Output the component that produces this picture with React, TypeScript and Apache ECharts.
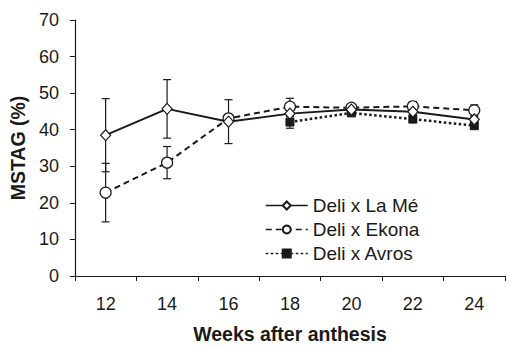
import React, { useEffect, useRef } from "react";
import * as echarts from "echarts";

const weeks = ["12", "14", "16", "18", "20", "22", "24"];
const laMe = [38.5, 45.7, 42.2, 44.4, 45.5, 44.9, 42.8];
const laMeErr = [10, 8, 6, 0.8, 0.5, 0.8, 0.8];
const ekona = [22.8, 31.0, 43.1, 46.3, 46.0, 46.4, 45.3];
const ekonaErr = [8, 4.4, 1, 2.3, 0.7, 1.3, 1.5];
const avros: (number | null)[] = [null, null, null, 42.1, 44.6, 42.9, 41.1];
const avrosErr: (number | null)[] = [null, null, null, 1.7, 0.7, 0.8, 0.8];

const FONT = "'Liberation Sans', Arial, sans-serif";
const INK = "#1a1a1a";

function errData(vals: (number | null)[], errs: (number | null)[]) {
  const out: number[][] = [];
  vals.forEach((v, i) => {
    const e = errs[i];
    if (v != null && e != null) out.push([i, v - e, v + e]);
  });
  return out;
}

function errSeries(name: string, vals: (number | null)[], errs: (number | null)[]) {
  return {
    type: "custom",
    name,
    z: 1,
    silent: true,
    encode: { x: 0, y: [1, 2] },
    data: errData(vals, errs),
    renderItem: (params: any, api: any) => {
      const i = api.value(0);
      const lo = api.coord([i, api.value(1)]);
      const hi = api.coord([i, api.value(2)]);
      const w = 4;
      const style = { stroke: INK, lineWidth: 1.2 };
      return {
        type: "group",
        children: [
          { type: "line", shape: { x1: lo[0], y1: lo[1], x2: hi[0], y2: hi[1] }, style },
          { type: "line", shape: { x1: lo[0] - w, y1: lo[1], x2: lo[0] + w, y2: lo[1] }, style },
          { type: "line", shape: { x1: hi[0] - w, y1: hi[1], x2: hi[0] + w, y2: hi[1] }, style },
        ],
      };
    },
  };
}

export default function App() {
  const ref = useRef<HTMLDivElement>(null);
  useEffect(() => {
    if (!ref.current) return;
    const chart = echarts.init(ref.current, null, { renderer: "svg" });
    chart.setOption({
      animation: false,
      textStyle: { fontFamily: FONT, color: INK },
      grid: { left: 74, right: 1, top: 20, bottom: 64, containLabel: false },
      legend: {
        orient: "vertical",
        left: 260,
        top: 191,
        itemWidth: 42,
        itemHeight: 10,
        itemGap: 5,
        lineStyle: { width: 1.5 },
        textStyle: { fontFamily: FONT, fontSize: 19, color: INK },
        data: ["Deli x La Mé", "Deli x Ekona", "Deli x Avros"],
      },
      xAxis: {
        type: "category",
        data: weeks,
        boundaryGap: true,
        name: "Weeks after anthesis",
        nameLocation: "middle",
        nameGap: 48,
        nameTextStyle: { fontFamily: FONT, fontSize: 19.5, fontWeight: "bold", color: INK },
        axisLine: { lineStyle: { color: INK, width: 1.2 } },
        axisTick: { show: true, alignWithLabel: false, length: 5, lineStyle: { color: INK } },
        axisLabel: { fontFamily: FONT, fontSize: 18, color: INK, margin: 19 },
      },
      yAxis: {
        type: "value",
        min: 0,
        max: 70,
        interval: 10,
        name: "MSTAG (%)",
        nameLocation: "middle",
        nameGap: 45,
        nameTextStyle: { fontFamily: FONT, fontSize: 19.5, fontWeight: "bold", color: INK },
        splitLine: { show: false },
        axisLine: { show: true, lineStyle: { color: INK, width: 1.2 } },
        axisTick: { show: true, length: 5, lineStyle: { color: INK } },
        axisLabel: { fontFamily: FONT, fontSize: 18, color: INK, margin: 16 },
      },
      series: [
        errSeries("errLaMe", laMe, laMeErr),
        errSeries("errEkona", ekona, ekonaErr),
        errSeries("errAvros", avros, avrosErr),
        {
          type: "line",
          name: "Deli x La Mé",
          data: laMe,
          z: 4,
          symbol: "diamond",
          symbolSize: [10, 11],
          lineStyle: { color: INK, width: 2, type: "solid" },
          itemStyle: { color: "#ffffff", borderColor: INK, borderWidth: 1.2 },
        },
        {
          type: "line",
          name: "Deli x Ekona",
          data: ekona,
          z: 3,
          symbol: "circle",
          symbolSize: 11,
          lineStyle: { color: INK, width: 2, type: [6, 4] },
          itemStyle: { color: "#ffffff", borderColor: INK, borderWidth: 1.2 },
        },
        {
          type: "line",
          name: "Deli x Avros",
          data: avros,
          z: 2,
          symbol: "rect",
          symbolSize: 8,
          lineStyle: { color: INK, width: 2.5, type: [2.5, 2.5] },
          itemStyle: { color: INK, borderColor: INK, borderWidth: 1 },
        },
      ],
    });
    return () => chart.dispose();
  }, []);
  return <div ref={ref} style={{ width: 506, height: 349, position: "absolute", left: 0, top: 0 }} />;
}
